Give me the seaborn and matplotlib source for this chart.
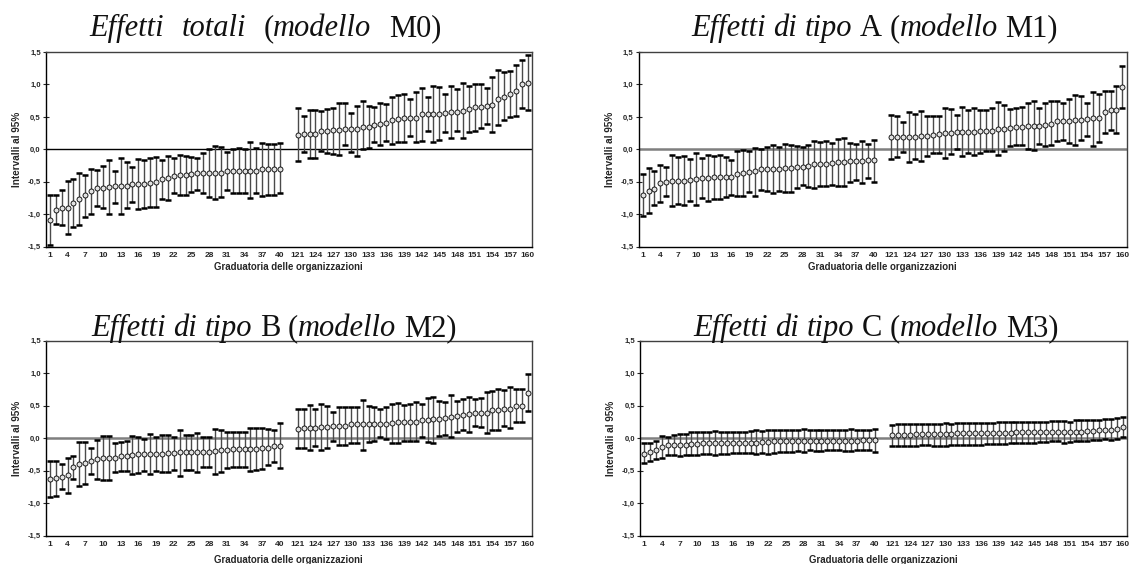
import numpy as np
import pandas as pd
import matplotlib
matplotlib.use("Agg")
import matplotlib.pyplot as plt
import seaborn as sns

# ---------------- data ----------------
left_ids = list(range(1, 41))
right_ids = list(range(121, 161))
org_ids = left_ids + right_ids

# Model M0 - Effetti totali
m0_est = [-1.09, -0.93, -0.90, -0.90, -0.82, -0.77, -0.71, -0.64, -0.60, -0.59,
          -0.58, -0.57, -0.56, -0.56, -0.54, -0.53, -0.53, -0.52, -0.51, -0.45,
          -0.44, -0.41, -0.40, -0.39, -0.38, -0.37, -0.37, -0.37, -0.36, -0.36,
          -0.34, -0.34, -0.34, -0.34, -0.33, -0.33, -0.31, -0.30, -0.30, -0.30,
          0.22, 0.23, 0.23, 0.24, 0.28, 0.28, 0.30, 0.30, 0.31, 0.31,
          0.32, 0.34, 0.34, 0.38, 0.39, 0.40, 0.45, 0.47, 0.48, 0.48,
          0.49, 0.54, 0.54, 0.54, 0.55, 0.56, 0.57, 0.58, 0.59, 0.62,
          0.65, 0.66, 0.67, 0.68, 0.78, 0.80, 0.85, 0.90, 1.01, 1.03]
m0_hi = [-0.70, -0.70, -0.63, -0.48, -0.46, -0.37, -0.39, -0.30, -0.32, -0.26,
         -0.17, -0.33, -0.13, -0.20, -0.27, -0.15, -0.16, -0.14, -0.12, -0.16,
         -0.11, -0.13, -0.09, -0.10, -0.12, -0.14, -0.06, 0.01, 0.05, 0.03,
         -0.04, 0.01, 0.02, 0.01, 0.11, 0.02, 0.10, 0.09, 0.09, 0.10,
         0.63, 0.51, 0.60, 0.60, 0.59, 0.62, 0.63, 0.71, 0.72, 0.56,
         0.67, 0.75, 0.67, 0.66, 0.72, 0.70, 0.81, 0.83, 0.85, 0.77,
         0.88, 0.95, 0.80, 0.97, 0.96, 0.86, 0.98, 0.93, 1.02, 0.97,
         1.00, 1.00, 0.94, 1.12, 1.22, 1.19, 1.20, 1.30, 1.38, 1.46]
m0_lo = [-1.47, -1.15, -1.16, -1.30, -1.19, -1.17, -1.05, -0.99, -0.87, -0.90,
         -0.99, -0.82, -0.99, -0.91, -0.81, -0.92, -0.90, -0.89, -0.89, -0.76,
         -0.78, -0.68, -0.71, -0.70, -0.66, -0.62, -0.67, -0.73, -0.77, -0.73,
         -0.63, -0.68, -0.68, -0.68, -0.75, -0.67, -0.72, -0.70, -0.70, -0.68,
         -0.18, -0.04, -0.13, -0.13, -0.03, -0.05, -0.07, -0.09, 0.07, -0.04,
         -0.10, 0.01, 0.02, 0.12, 0.07, 0.13, 0.08, 0.12, 0.11, 0.20,
         0.11, 0.13, 0.28, 0.11, 0.14, 0.26, 0.17, 0.28, 0.17, 0.27,
         0.29, 0.33, 0.39, 0.26, 0.37, 0.45, 0.50, 0.51, 0.63, 0.60]

# Model M1 - Effetti di tipo A
m1_est = [-0.71, -0.64, -0.61, -0.52, -0.50, -0.48, -0.48, -0.48, -0.47, -0.45,
          -0.44, -0.44, -0.43, -0.42, -0.42, -0.42, -0.38, -0.36, -0.35, -0.34,
          -0.31, -0.30, -0.30, -0.30, -0.29, -0.29, -0.27, -0.27, -0.26, -0.23,
          -0.22, -0.22, -0.21, -0.20, -0.19, -0.18, -0.18, -0.18, -0.17, -0.17,
          0.19, 0.19, 0.19, 0.19, 0.19, 0.20, 0.20, 0.22, 0.24, 0.25,
          0.25, 0.26, 0.26, 0.27, 0.27, 0.28, 0.29, 0.29, 0.32, 0.32,
          0.33, 0.34, 0.35, 0.36, 0.36, 0.36, 0.38, 0.39, 0.43, 0.43,
          0.44, 0.45, 0.45, 0.46, 0.48, 0.49, 0.57, 0.60, 0.61, 0.96]
m1_hi = [-0.38, -0.29, -0.34, -0.24, -0.27, -0.08, -0.12, -0.10, -0.15, -0.05,
         -0.14, -0.08, -0.10, -0.08, -0.12, -0.16, -0.03, -0.01, -0.02, 0.02,
         0.01, 0.03, 0.07, 0.04, 0.08, 0.07, 0.05, 0.03, 0.06, 0.13,
         0.12, 0.13, 0.10, 0.16, 0.17, 0.10, 0.09, 0.13, 0.09, 0.15,
         0.53, 0.51, 0.42, 0.58, 0.54, 0.59, 0.52, 0.51, 0.52, 0.64,
         0.62, 0.53, 0.66, 0.60, 0.64, 0.61, 0.61, 0.64, 0.73, 0.69,
         0.62, 0.63, 0.66, 0.71, 0.74, 0.63, 0.72, 0.75, 0.74, 0.72,
         0.77, 0.83, 0.82, 0.72, 0.88, 0.86, 0.90, 0.90, 0.97, 1.28]
m1_lo = [-1.03, -0.98, -0.86, -0.81, -0.72, -0.88, -0.84, -0.85, -0.79, -0.86,
         -0.75, -0.80, -0.77, -0.77, -0.74, -0.70, -0.72, -0.72, -0.66, -0.72,
         -0.63, -0.64, -0.68, -0.64, -0.66, -0.65, -0.60, -0.55, -0.58, -0.60,
         -0.57, -0.57, -0.55, -0.57, -0.57, -0.51, -0.47, -0.52, -0.44, -0.50,
         -0.15, -0.12, -0.04, -0.19, -0.15, -0.18, -0.10, -0.06, -0.06, -0.14,
         -0.07, 0.00, -0.11, -0.05, -0.08, -0.05, -0.03, -0.02, -0.09, -0.03,
         0.05, 0.07, 0.06, 0.01, -0.01, 0.09, 0.05, 0.06, 0.13, 0.14,
         0.10, 0.07, 0.15, 0.20, 0.05, 0.11, 0.25, 0.30, 0.25, 0.64]

# Model M2 - Effetti di tipo B
m2_est = [-0.63, -0.62, -0.60, -0.57, -0.45, -0.40, -0.38, -0.36, -0.33, -0.31,
          -0.30, -0.30, -0.27, -0.27, -0.26, -0.25, -0.25, -0.24, -0.24, -0.24,
          -0.23, -0.23, -0.22, -0.22, -0.22, -0.21, -0.21, -0.21, -0.20, -0.19,
          -0.18, -0.17, -0.17, -0.17, -0.17, -0.17, -0.15, -0.15, -0.13, -0.12,
          0.14, 0.15, 0.16, 0.16, 0.17, 0.17, 0.18, 0.18, 0.18, 0.21,
          0.21, 0.21, 0.21, 0.21, 0.22, 0.22, 0.23, 0.24, 0.24, 0.24,
          0.25, 0.27, 0.28, 0.29, 0.30, 0.31, 0.33, 0.34, 0.36, 0.37,
          0.38, 0.39, 0.39, 0.43, 0.43, 0.45, 0.45, 0.49, 0.50, 0.70]
m2_hi = [-0.36, -0.35, -0.40, -0.30, -0.27, -0.06, -0.06, -0.16, -0.03, 0.03,
         0.03, -0.08, -0.06, -0.04, 0.03, 0.02, -0.01, 0.06, 0.01, 0.04,
         0.05, 0.02, 0.13, 0.04, 0.05, 0.08, 0.02, 0.02, 0.14, 0.13,
         0.10, 0.10, 0.10, 0.10, 0.16, 0.16, 0.15, 0.14, 0.12, 0.23,
         0.44, 0.45, 0.51, 0.45, 0.53, 0.50, 0.40, 0.47, 0.47, 0.47,
         0.47, 0.59, 0.49, 0.48, 0.45, 0.47, 0.53, 0.54, 0.51, 0.53,
         0.56, 0.53, 0.61, 0.63, 0.57, 0.56, 0.66, 0.57, 0.60, 0.63,
         0.60, 0.61, 0.71, 0.73, 0.75, 0.74, 0.78, 0.75, 0.76, 0.98]
m2_lo = [-0.90, -0.89, -0.79, -0.85, -0.63, -0.74, -0.70, -0.56, -0.63, -0.65,
         -0.65, -0.53, -0.50, -0.51, -0.56, -0.54, -0.50, -0.55, -0.50, -0.52,
         -0.52, -0.49, -0.58, -0.49, -0.49, -0.52, -0.44, -0.45, -0.55, -0.52,
         -0.46, -0.45, -0.45, -0.45, -0.50, -0.49, -0.47, -0.41, -0.37, -0.46,
         -0.15, -0.15, -0.19, -0.13, -0.18, -0.15, -0.05, -0.11, -0.11, -0.07,
         -0.08, -0.18, -0.06, -0.05, 0.01, -0.01, -0.07, -0.07, -0.04, -0.04,
         -0.05, 0.02, -0.06, -0.07, 0.03, 0.04, 0.01, 0.10, 0.13, 0.10,
         0.18, 0.17, 0.08, 0.12, 0.12, 0.18, 0.16, 0.24, 0.24, 0.42]

# Model M3 - Effetti di tipo C
m3_est = [-0.24, -0.21, -0.19, -0.14, -0.11, -0.11, -0.10, -0.10, -0.09, -0.09,
          -0.08, -0.08, -0.08, -0.08, -0.08, -0.07, -0.07, -0.07, -0.07, -0.07,
          -0.06, -0.06, -0.05, -0.05, -0.05, -0.05, -0.04, -0.04, -0.04, -0.04,
          -0.04, -0.04, -0.04, -0.04, -0.04, -0.04, -0.04, -0.03, -0.03, -0.03,
          0.04, 0.05, 0.05, 0.05, 0.06, 0.06, 0.06, 0.06, 0.06, 0.06,
          0.06, 0.07, 0.07, 0.07, 0.07, 0.07, 0.07, 0.07, 0.08, 0.08,
          0.08, 0.09, 0.09, 0.09, 0.09, 0.09, 0.10, 0.10, 0.10, 0.10,
          0.10, 0.10, 0.10, 0.11, 0.11, 0.12, 0.13, 0.13, 0.14, 0.17]
m3_hi = [-0.07, -0.07, -0.05, 0.03, 0.02, 0.05, 0.06, 0.06, 0.09, 0.10,
         0.10, 0.09, 0.11, 0.09, 0.09, 0.09, 0.09, 0.10, 0.11, 0.12,
         0.11, 0.12, 0.12, 0.12, 0.13, 0.13, 0.12, 0.14, 0.13, 0.12,
         0.13, 0.13, 0.13, 0.13, 0.13, 0.14, 0.13, 0.13, 0.13, 0.14,
         0.20, 0.21, 0.22, 0.22, 0.22, 0.22, 0.21, 0.21, 0.22, 0.23,
         0.22, 0.23, 0.23, 0.23, 0.23, 0.23, 0.23, 0.23, 0.24, 0.24,
         0.24, 0.25, 0.25, 0.25, 0.25, 0.24, 0.25, 0.26, 0.26, 0.26,
         0.25, 0.27, 0.27, 0.27, 0.28, 0.28, 0.30, 0.30, 0.31, 0.32]
m3_lo = [-0.39, -0.35, -0.33, -0.31, -0.26, -0.26, -0.27, -0.26, -0.26, -0.26,
         -0.25, -0.25, -0.26, -0.25, -0.24, -0.23, -0.23, -0.23, -0.23, -0.24,
         -0.23, -0.24, -0.23, -0.22, -0.21, -0.21, -0.20, -0.21, -0.19, -0.20,
         -0.20, -0.19, -0.19, -0.19, -0.20, -0.20, -0.19, -0.18, -0.19, -0.21,
         -0.12, -0.12, -0.12, -0.13, -0.12, -0.11, -0.11, -0.12, -0.12, -0.13,
         -0.11, -0.10, -0.10, -0.10, -0.10, -0.10, -0.09, -0.09, -0.09, -0.09,
         -0.08, -0.08, -0.07, -0.07, -0.07, -0.06, -0.06, -0.05, -0.05, -0.07,
         -0.06, -0.05, -0.04, -0.05, -0.03, -0.03, -0.02, -0.03, -0.02, 0.02]

# titles: (word, italic, space_after)
title_m0 = [("Effetti", True, True), ("totali", True, True), ("(", False, False),
            ("modello", True, True), ("M0)", False, False)]
title_m1 = [("Effetti", True, True), ("di", True, True), ("tipo", True, True),
            ("A", False, True), ("(", False, False), ("modello", True, True), ("M1)", False, False)]
title_m2 = [("Effetti", True, True), ("di", True, True), ("tipo", True, True),
            ("B", False, True), ("(", False, False), ("modello", True, True), ("M2)", False, False)]
title_m3 = [("Effetti", True, True), ("di", True, True), ("tipo", True, True),
            ("C", False, True), ("(", False, False), ("modello", True, True), ("M3)", False, False)]

y_label = "Intervalli al 95%"
x_label = "Graduatoria delle organizzazioni"
y_ticks = [-1.5, -1.0, -0.5, 0.0, 0.5, 1.0, 1.5]

# ---------------- style ----------------
sns.set_style("white")
plt.rcParams["font.family"] = ["Liberation Sans", "DejaVu Sans"]
plt.rcParams["axes.unicode_minus"] = False

W, H = 1129, 564
fig = plt.figure(figsize=(W / 100, H / 100), dpi=100)

# slot positions: two empty slots between organisation 40 and 121
pos = list(range(40)) + [i + 42 for i in range(40)]
tick_idx = list(range(0, 40, 3)) + list(range(40, 80, 3))

def px_axes(l, r, t, b):
    return fig.add_axes([l / W, 1 - b / H, (r - l) / W, (b - t) / H])

panels = [
    dict(box=(45.7, 532, 52, 246.7), est=m0_est, lo=m0_lo, hi=m0_hi, title=title_m0,
         tpos=(89, 36), gapf=2.3, zc="black", zlw=1.0),
    dict(box=(638.5, 1126.5, 52, 246.7), est=m1_est, lo=m1_lo, hi=m1_hi, title=title_m1,
         tpos=(691, 36), gapf=1.0, zc="#7f7f7f", zlw=1.8),
    dict(box=(45.7, 532, 340.5, 535.5), est=m2_est, lo=m2_lo, hi=m2_hi, title=title_m2,
         tpos=(91, 336), gapf=1.0, zc="#7f7f7f", zlw=1.8),
    dict(box=(640, 1127, 340.5, 535.5), est=m3_est, lo=m3_lo, hi=m3_hi, title=title_m3,
         tpos=(693, 336), gapf=1.0, zc="#7f7f7f", zlw=1.8),
]

renderer = fig.canvas.get_renderer()
TSIZE = 22

def text_w(s, italic):
    t = fig.text(0, 0, s, fontsize=TSIZE, family="Liberation Serif",
                 style="italic" if italic else "normal")
    w = t.get_window_extent(renderer=renderer).width
    t.remove()
    return w

space_w = text_w("a a", False) - text_w("aa", False)

def draw_title(pieces, x0, yb, gapf):
    x = x0
    for word, it, sp in pieces:
        t = fig.text(x / W, 1 - yb / H, word, fontsize=TSIZE, family="Liberation Serif",
                     style="italic" if it else "normal", ha="left", va="baseline",
                     color="#111111")
        x += t.get_window_extent(renderer=renderer).width
        if sp:
            x += space_w * gapf

for p in panels:
    ax = px_axes(*p["box"])
    df = pd.DataFrame({"pos": pos, "org": org_ids, "est": p["est"],
                       "lo": p["lo"], "hi": p["hi"]})
    ax.axhline(0, color=p["zc"], lw=p["zlw"], zorder=1)
    eb = ax.errorbar(df["pos"], df["est"],
                     yerr=[df["est"] - df["lo"], df["hi"] - df["est"]],
                     fmt="none", ecolor="#4a4a4a", elinewidth=1.0,
                     capsize=2.0, capthick=1.8, zorder=2)
    for cl in eb[1]:
        cl.set_markeredgecolor("black")
        cl.set_color("black")
    sns.scatterplot(data=df, x="pos", y="est", ax=ax, s=13, color="#e2e2e2",
                    edgecolor="black", linewidth=0.6, zorder=3, legend=False)
    ax.set_xlim(-0.7, 81.7)
    ax.set_ylim(-1.5, 1.5)
    ax.set_yticks(y_ticks)
    ax.set_yticklabels([f"{v:.1f}".replace(".", ",") for v in y_ticks],
                       fontsize=5.5, fontweight="bold")
    ax.set_xticks([pos[i] for i in tick_idx])
    ax.set_xticklabels([str(org_ids[i]) for i in tick_idx], fontsize=6.0,
                       fontweight="bold")
    ax.tick_params(axis="x", length=0, pad=4)
    ax.tick_params(axis="y", direction="inout", length=4, width=0.8, pad=1.5, left=True)
    ax.set_xlabel(x_label, fontsize=6.9, fontweight="bold")
    ax.set_ylabel(y_label, fontsize=7.2, fontweight="bold")
    l, r, t, b = p["box"]
    ax.yaxis.set_label_coords(-23.7 / (r - l), 0.5)
    xl_top = b + 15.0 if t < 100 else b + 19.5
    ax.xaxis.set_label_coords(0.5, (b - xl_top) / (b - t))
    for side in ["left", "bottom"]:
        ax.spines[side].set_color("black")
        ax.spines[side].set_linewidth(1.0)
    for side in ["top", "right"]:
        ax.spines[side].set_color("#404040")
        ax.spines[side].set_linewidth(1.0)
    ax.grid(False)
    draw_title(p["title"], p["tpos"][0], p["tpos"][1], p["gapf"])

fig.savefig("out.png", dpi=100)
